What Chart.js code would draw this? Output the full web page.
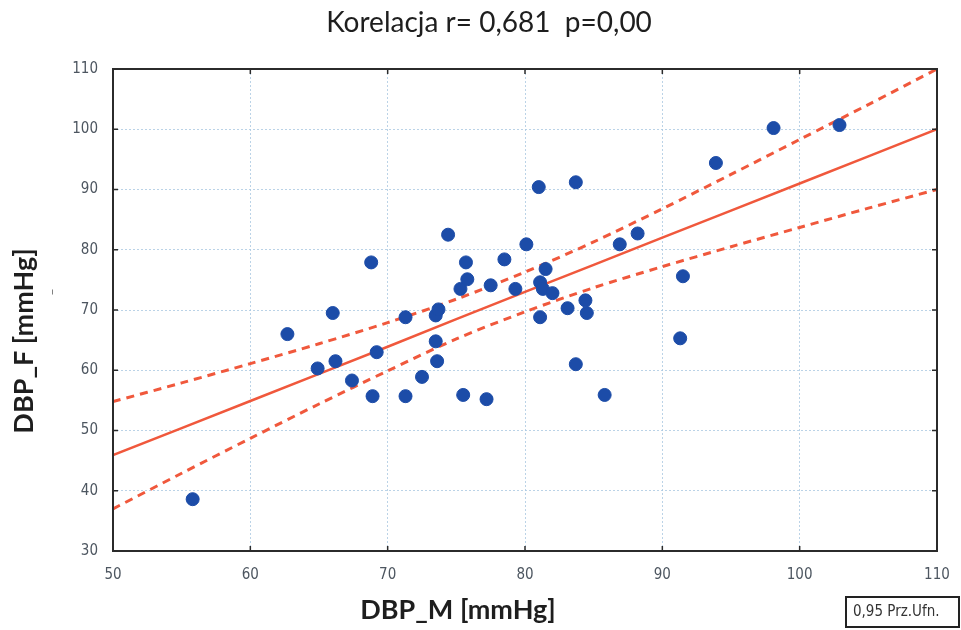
<!DOCTYPE html>
<html>
<head>
<meta charset="utf-8">
<script src="https://cdn.jsdelivr.net/npm/chart.js@4.4.1/dist/chart.umd.min.js"></script>
<style>
  html, body { margin: 0; padding: 0; background: #fff; }
  #wrap { width: 961px; height: 630px; position: relative; }
</style>
</head>
<body>
<div id="wrap"><canvas id="corrChart" width="961" height="630"></canvas></div>
<script>
// DBP_M (x) vs DBP_F (y)
const dbpM = [55.8, 62.7, 64.9, 66.0, 66.2, 67.4, 68.8, 68.9, 69.2, 71.3, 71.3, 72.5, 73.5, 73.6, 73.5,
    73.7, 74.4, 75.3, 75.5, 75.7, 75.8, 77.2, 77.5, 78.5, 79.3, 80.1, 81.0, 81.1, 81.1, 81.5,
    81.3, 82.0, 83.1, 83.7, 83.7, 84.4, 84.5, 85.8, 86.9, 88.2, 91.3, 91.5, 93.9, 98.1, 102.9];
const dbpF = [38.6, 66.0, 60.3, 69.5, 61.5, 58.3, 77.9, 55.7, 63.0, 68.8, 55.7, 58.9, 64.8, 61.5, 69.1,
    70.1, 82.5, 73.5, 55.9, 77.9, 75.1, 55.2, 74.1, 78.4, 73.5, 80.9, 90.4, 74.6, 68.8, 76.8,
    73.5, 72.8, 70.3, 91.2, 61.0, 71.6, 69.5, 55.9, 80.9, 82.7, 65.3, 75.6, 94.4, 100.2, 100.7];

// regression line and 0.95 confidence band, read at these x positions
const bandX = [50, 55, 60, 65, 70, 75, 80, 85, 90, 95, 100, 105, 110];
const fitY = [45.9, 50.4, 54.9, 59.4, 63.9, 68.5, 73.0, 77.5, 82.0, 86.5, 91.0, 95.5, 100.0];
const upperY = [54.8, 57.9, 61.1, 64.4, 67.9, 71.8, 76.3, 81.3, 86.8, 92.5, 98.3, 104.1, 110.0];
const lowerY = [37.0, 42.9, 48.7, 54.4, 59.9, 65.2, 69.7, 73.7, 77.2, 80.5, 83.7, 86.9, 90.0];

const titleText = 'Korelacja r= 0,681  p=0,00';
const xTitle = 'DBP_M [mmHg]';
const yTitle = 'DBP_F [mmHg]';
const legendText = '0,95 Prz.Ufn.';

const red = 'rgb(240, 88, 60)';
const blue = 'rgb(28, 76, 168)';
const tickFont = { family: '"Liberation Sans Narrow", "DejaVu Sans Condensed", sans-serif', size: 15 };

function toXY(xs, ys) {
    return xs.map((x, i) => ({ x: x, y: ys[i] }));
}

// frame, inward tick marks, titles and the little legend box
const decorPlugin = {
    id: 'decor',
    beforeDraw(chart) {
        const c = chart.ctx;
        c.save();
        c.fillStyle = '#fff';
        c.fillRect(0, 0, chart.width, chart.height);
        c.restore();
    },
    afterDraw(chart) {
        const c = chart.ctx;
        const a = chart.chartArea;
        const xs = chart.scales.x, ys = chart.scales.y;
        c.save();
        c.strokeStyle = '#2b2b2b';
        c.lineWidth = 2;
        c.strokeRect(a.left, a.top, a.right - a.left, a.bottom - a.top);
        c.lineWidth = 1.5;
        c.beginPath();
        xs.ticks.forEach(t => {
            const px = xs.getPixelForValue(t.value);
            c.moveTo(px, a.bottom); c.lineTo(px, a.bottom - 5);
            c.moveTo(px, a.top); c.lineTo(px, a.top + 5);
        });
        ys.ticks.forEach(t => {
            const py = ys.getPixelForValue(t.value);
            c.moveTo(a.left, py); c.lineTo(a.left + 5, py);
            c.moveTo(a.right, py); c.lineTo(a.right - 5, py);
        });
        c.stroke();

        c.fillStyle = '#1e1e1e';
        c.textAlign = 'center';
        c.textBaseline = 'middle';
        c.font = '28px Lato, "Open Sans", sans-serif';
        c.fillText(titleText, 489, 23);

        c.font = 'bold 27px Lato, "Open Sans", sans-serif';
        c.fillText(xTitle, 458, 610);

        c.save();
        c.translate(24, 341);
        c.rotate(-Math.PI / 2);
        c.fillText(yTitle, 0, 0);
        c.restore();

        c.save();
        c.translate(47, 292);
        c.rotate(-Math.PI / 2);
        c.font = '13px Lato, sans-serif';
        c.fillStyle = '#666';
        c.fillText('_', 0, 0);
        c.restore();

        c.strokeStyle = '#222';
        c.lineWidth = 2;
        c.strokeRect(846, 597, 113, 30);
        c.fillStyle = '#333';
        c.font = '15px "Liberation Sans Narrow", "DejaVu Sans Condensed", sans-serif';
        c.textAlign = 'left';
        c.fillText(legendText, 853, 612);
        c.restore();
    }
};

const ctx = document.getElementById('corrChart').getContext('2d');
const corrChart = new Chart(ctx, {
    type: 'scatter',
    data: {
        datasets: [
            {
                label: 'DBP',
                data: toXY(dbpM, dbpF),
                backgroundColor: blue,
                borderColor: blue,
                pointRadius: 6.5,
                order: 0
            },
            {
                label: 'fit',
                type: 'line',
                data: toXY(bandX, fitY),
                borderColor: red,
                borderWidth: 2.5,
                pointRadius: 0,
                fill: false,
                order: 1
            },
            {
                label: 'upper',
                type: 'line',
                data: toXY(bandX, upperY),
                borderColor: red,
                borderWidth: 3,
                borderDash: [8, 6],
                pointRadius: 0,
                tension: 0.3,
                fill: false,
                order: 2
            },
            {
                label: 'lower',
                type: 'line',
                data: toXY(bandX, lowerY),
                borderColor: red,
                borderWidth: 3,
                borderDash: [8, 6],
                pointRadius: 0,
                tension: 0.3,
                fill: false,
                order: 3
            }
        ]
    },
    options: {
        responsive: false,
        animation: false,
        layout: { padding: { top: 69, right: 24, left: 0, bottom: 0 } },
        plugins: {
            legend: { display: false },
            title: { display: false },
            tooltip: { enabled: false }
        },
        scales: {
            x: {
                type: 'linear',
                min: 50,
                max: 110,
                ticks: { stepSize: 10, color: '#4d5660', font: tickFont, padding: 15 },
                grid: { color: 'rgba(170, 200, 225, 0.8)', tickLength: 0, lineWidth: 1 },
                border: { display: false, dash: [2, 2] },
                afterFit(scale) {
                    scale.height = 79;
                    scale.paddingRight = 0;
                }
            },
            y: {
                type: 'linear',
                min: 30,
                max: 110,
                ticks: { stepSize: 10, color: '#4d5660', font: tickFont, padding: 15 },
                grid: { color: 'rgba(170, 200, 225, 0.8)', tickLength: 0, lineWidth: 1 },
                border: { display: false, dash: [2, 2] },
                afterFit(scale) { scale.width = 113; }
            }
        }
    },
    plugins: [decorPlugin]
});
</script>
</body>
</html>
